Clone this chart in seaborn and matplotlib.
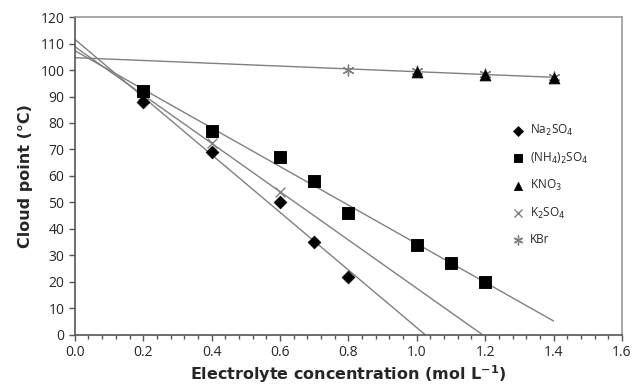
import numpy as np
import pandas as pd
import matplotlib
matplotlib.use("Agg")
import matplotlib.pyplot as plt
import seaborn as sns
from matplotlib.ticker import MultipleLocator

# ----------------------------
# dados
# ----------------------------
na2so4_x = [0.2, 0.4, 0.6, 0.7, 0.8]
na2so4_y = [88, 69, 50, 35, 22]

nh4_x = [0.2, 0.4, 0.6, 0.7, 0.8, 1.0, 1.1, 1.2]
nh4_y = [92, 77, 67, 58, 46, 34, 27, 20]

kno3_x = [1.0, 1.2, 1.4]
kno3_y = [99.4, 98.2, 97.0]

k2so4_x = [0.2, 0.4, 0.6]
k2so4_y = [90.5, 72.5, 54]

kbr_x = [0.8, 1.0, 1.2, 1.4]
kbr_y = [100.2, 99.6, 98.6, 97.3]

sns.set_style("white")
plt.rcParams["font.family"] = ["Open Sans", "DejaVu Sans"]

fig = plt.figure(figsize=(6.34, 3.88), dpi=100)
ax = fig.add_axes([0.118, 0.137, 0.863, 0.819])

cinza = "#808080"

# ----------------------------
# linhas de tendência (regressão linear)
# ----------------------------
def tendencia(xs, ys, fim=None):
    a, b = np.polyfit(xs, ys, 1)
    if fim is None:
        fim = -b / a
    xx = np.array([0.0, fim])
    ax.plot(xx, a * xx + b, color=cinza, lw=1.0, zorder=1)

tendencia(na2so4_x, na2so4_y)
tendencia(k2so4_x, k2so4_y)
tendencia(nh4_x, nh4_y, 1.4)
tendencia(kbr_x + kno3_x, kbr_y + kno3_y, 1.4)

# ----------------------------
# pontos
# ----------------------------
sns.scatterplot(x=na2so4_x, y=na2so4_y, marker="D", s=42, color="black",
                edgecolor="black", label=r"Na$_2$SO$_4$", ax=ax, zorder=3)
sns.scatterplot(x=nh4_x, y=nh4_y, marker="s", s=68, color="black",
                edgecolor="black", label=r"(NH$_4$)$_2$SO$_4$", ax=ax, zorder=3)
sns.scatterplot(x=kno3_x, y=kno3_y, marker="^", s=60, color="black",
                edgecolor="black", label=r"KNO$_3$", ax=ax, zorder=4)
sns.scatterplot(x=k2so4_x, y=k2so4_y, marker="x", s=50, color=cinza,
                linewidth=1.0, label=r"K$_2$SO$_4$", ax=ax, zorder=2)
sns.scatterplot(x=kbr_x, y=kbr_y, marker=(6, 2, 0), s=60, color=cinza,
                linewidth=1.0, label="KBr", ax=ax, zorder=2.5)

ax.set_xlim(0, 1.6)
ax.set_ylim(0, 120)
ax.xaxis.set_major_locator(MultipleLocator(0.2))
ax.xaxis.set_minor_locator(MultipleLocator(0.04))
ax.yaxis.set_major_locator(MultipleLocator(10))
ax.xaxis.set_major_formatter(matplotlib.ticker.FormatStrFormatter("%.1f"))

ax.tick_params(axis="both", which="major", direction="out", length=4,
               width=1, color="#555555", labelsize=10, bottom=True, left=True)
ax.tick_params(axis="x", which="minor", direction="out", length=3,
               width=1, color="#555555", bottom=True)

for lado in ["top", "right"]:
    ax.spines[lado].set_color("#999999")
    ax.spines[lado].set_linewidth(1.2)
for lado in ["left", "bottom"]:
    ax.spines[lado].set_color("#555555")
    ax.spines[lado].set_linewidth(1.2)

ax.set_xlabel(r"Electrolyte concentration (mol L$^{\mathregular{-1}}$)",
              fontsize=11.5, fontweight="bold", family="DejaVu Sans", labelpad=2)
ax.set_ylabel("Cloud point (°C)", fontsize=11.5, fontweight="bold",
              family="DejaVu Sans", labelpad=5)

leg = ax.legend(loc="upper left", bbox_to_anchor=(0.785, 0.685), frameon=False,
                fontsize=8.5, labelspacing=1.05, handletextpad=0.3,
                handlelength=1.4, borderpad=0)
# marcadores da legenda menores, como no original
for h, tam in zip(leg.legend_handles, [26, 32, 34, 34, 40]):
    h.set_sizes([tam])

fig.savefig("out.png", dpi=100)
